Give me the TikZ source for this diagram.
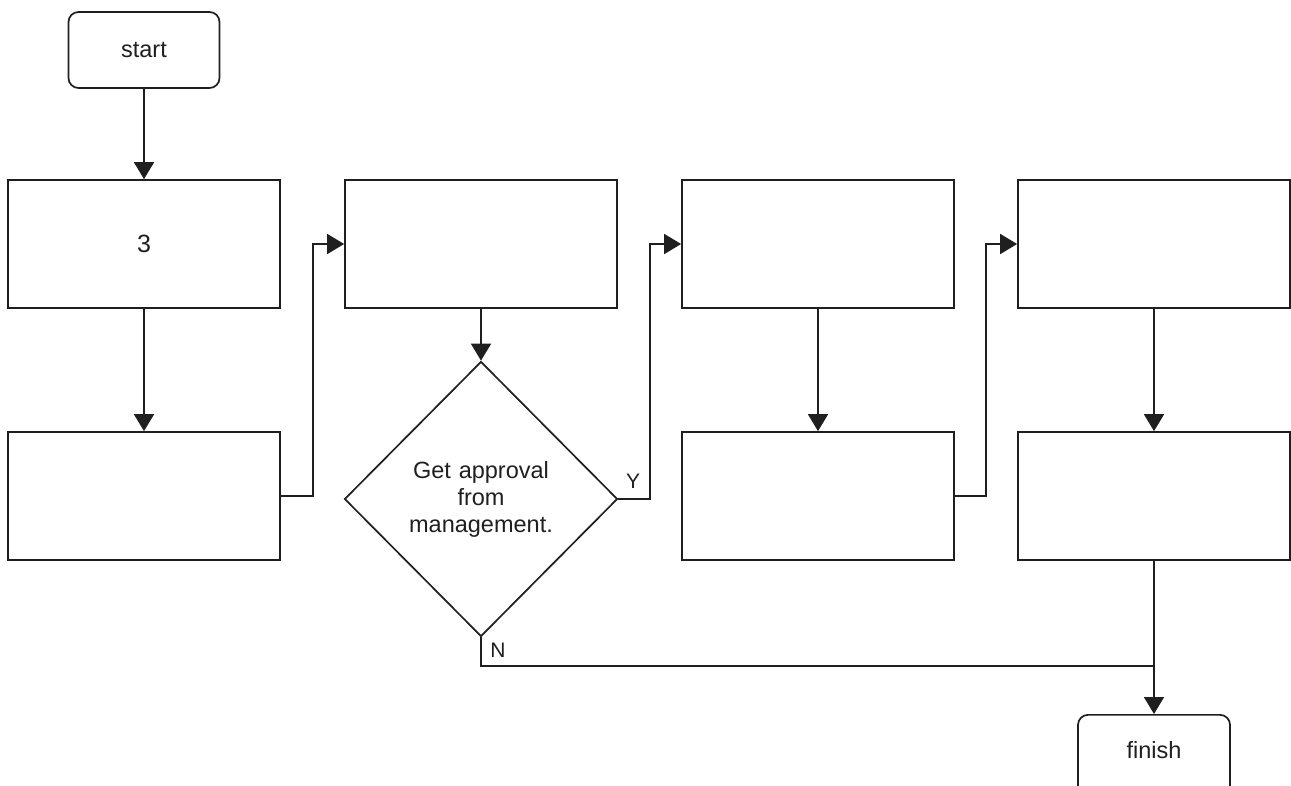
\documentclass[tikz,border=0pt]{standalone}
\usepackage{fontspec}
\setmainfont{Liberation Sans}
\usetikzlibrary{shapes.geometric,arrows.meta}
\begin{document}
\begin{tikzpicture}[x=1pt,y=-1pt,
  every node/.style={font=\fontsize{23.5}{27}\selectfont, text=black!88},
  box/.style={draw=black!88, line width=1.7pt, minimum width=272pt, minimum height=128pt, inner sep=0pt},
  term/.style={draw=black!88, line width=1.7pt, rounded corners=10pt, inner sep=0pt},
  dec/.style={draw=black!88, line width=1.7pt, diamond, minimum width=273pt, minimum height=275pt, inner sep=0pt, align=center, text width=150pt},
  conn/.style={draw=black!88, line width=1.7pt, -{Triangle[length=17pt,width=20pt]}},
  plain/.style={draw=black!88, line width=1.7pt},
  lab/.style={font=\fontsize{21}{25}\selectfont, inner sep=0pt}
]
\useasboundingbox (0,0) rectangle (1291,785);
\node[term, minimum width=151pt, minimum height=76pt] (start) at (144,50) {start};
\node[box] (a) at (144,244) {\fontsize{25}{28}\selectfont 3};
\node[box] (b) at (144,496) {};
\node[box] (c) at (481,244) {};
\node[dec] (d) at (481,499) {Get approval\\from\\management.};
\node[box] (e) at (818,244) {};
\node[box] (f) at (818,496) {};
\node[box] (g) at (1154,244) {};
\node[box] (h) at (1154,496) {};
\node[term, minimum width=152pt, minimum height=90pt, anchor=north] (fin) at (1154,714) {};
\node (fintext) at (1154,750) {finish};
\coordinate (j) at (1154,666);

\draw[conn] (start) -- (a);
\draw[conn] (a) -- (b);
\draw[conn] (b.east) -- (313,496) |- (c.west);
\draw[conn] (c) -- (d.north);
\draw[conn] (d.east) -- (650,499) |- (e.west);
\draw[conn] (e) -- (f);
\draw[conn] (f.east) -- (986,496) |- (g.west);
\draw[conn] (g) -- (h);
\draw[conn] (h.south) -- (fin.north);
\draw[plain] (d.south) |- (j);
\node[lab] (ylab) at (633,481) {Y};
\node[lab] (nlab) at (498,650) {N};
\end{tikzpicture}
\end{document}
